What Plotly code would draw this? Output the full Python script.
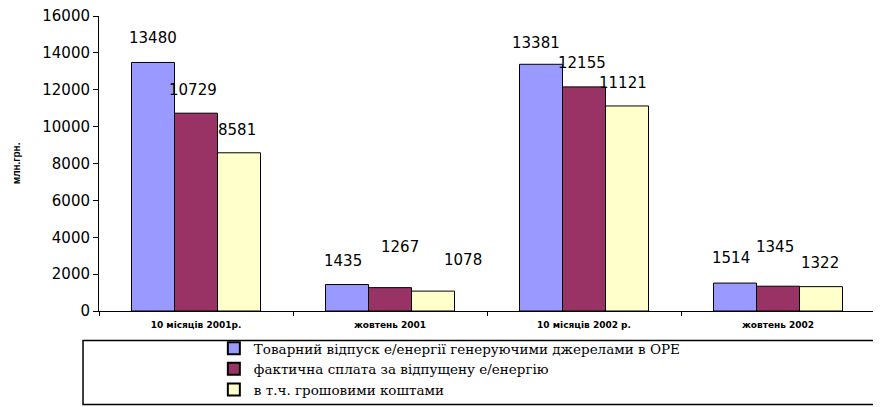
import plotly.graph_objects as go

categories = ["10 місяців 2001р.", "жовтень 2001", "10 місяців 2002 р.", "жовтень 2002"]
series_names = [
    "Товарний відпуск е/енергії генеруючими джерелами в ОРЕ",
    "фактична сплата за відпущену е/енергію",
    "в т.ч. грошовими коштами",
]
supply = [13480, 1435, 13381, 1514]
paid = [10729, 1267, 12155, 1345]
cash = [8581, 1078, 11121, 1322]
y_ticks = [0, 2000, 4000, 6000, 8000, 10000, 12000, 14000, 16000]

colors = ["#9999FF", "#993366", "#FFFFCC"]
# label nudges (pixels) to mimic the original staggered label placement
label_dy = [[24, 24, 21, 25], [23, 41, 24, 39], [23, 31, 23, 24]]
label_dx = [[0, -4, -5, -4], [-3, 10, -2, -3], [-2, 30, -4, -1]]

BARGAP = 0.335
series = [supply, paid, cash]

fig = go.Figure()
for name, vals, col in zip(series_names, series, colors):
    fig.add_trace(go.Bar(
        x=categories, y=vals, name=name,
        marker=dict(color=col, line=dict(color="black", width=1)),
    ))

bar_w = (1 - BARGAP) / 3
annotations = []
for j, vals in enumerate(series):
    for i, v in enumerate(vals):
        annotations.append(dict(
            x=i + (j - 1) * bar_w, y=v, xref="x", yref="y",
            text=str(v), showarrow=False,
            xanchor="center", yanchor="middle",
            xshift=label_dx[j][i], yshift=label_dy[j][i],
            font=dict(family="DejaVu Sans", size=15, color="black"),
        ))
annotations.append(dict(
    x=-0.106, y=0.5, xref="paper", yref="paper", text="<b>млн.грн.</b>",
    textangle=-90, showarrow=False, xanchor="center", yanchor="middle",
    font=dict(family="Arial", size=10, color="black"),
))

# page body has an 8px margin, so the figure is sized to fit the window
fig.update_layout(
    width=873, height=399,
    margin=dict(l=91, r=6, t=8, b=96),
    paper_bgcolor="white", plot_bgcolor="white",
    barmode="group", bargap=BARGAP, bargroupgap=0,
    showlegend=True,
    legend=dict(
        x=0.148, y=0.005, xanchor="left", yanchor="bottom", yref="container",
        font=dict(family="DejaVu Serif", size=13.5, color="black"),
        tracegroupgap=0, itemsizing="constant",
        bgcolor="rgba(0,0,0,0)", borderwidth=0,
    ),
    annotations=annotations,
    shapes=[dict(
        type="rect", xref="paper", yref="paper",
        x0=-0.0206, x1=1.02, y0=-0.317, y1=-0.1,
        line=dict(color="black", width=1.5), fillcolor="rgba(0,0,0,0)",
    )],
    xaxis=dict(
        type="category", showline=True, linecolor="black", linewidth=1,
        ticks="outside", tickson="boundaries", ticklen=4, tickcolor="black",
        tickfont=dict(family="DejaVu Sans", size=9, color="black", weight="bold"),
        ticklabelstandoff=5,
        showgrid=False, zeroline=False, automargin=False,
    ),
    yaxis=dict(
        range=[0, 16000], tickvals=y_ticks, tickformat="d", showline=True,
        linecolor="black", linewidth=1, ticks="outside", ticklen=5,
        tickcolor="black", ticklabeloverflow="allow",
        tickfont=dict(family="DejaVu Sans", size=15, color="black"),
        showgrid=False, zeroline=False, automargin=False,
    ),
)

fig.write_html("out.html")
